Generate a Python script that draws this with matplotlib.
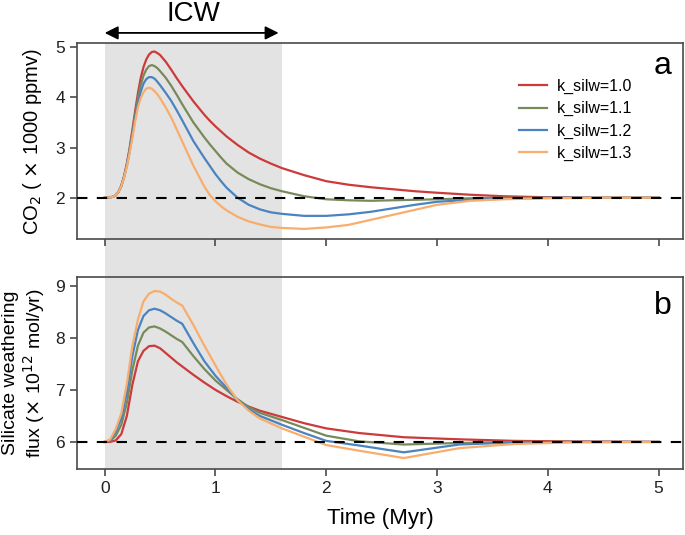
import matplotlib
matplotlib.use("Agg")
import matplotlib.pyplot as plt
import matplotlib.transforms as mtransforms
from matplotlib.patches import Rectangle

plt.rcParams['font.family'] = ['Liberation Sans', 'DejaVu Sans']

# time axis (Myr) for the CO2 panel
time_co2 = [0, 0.05, 0.075, 0.1, 0.125, 0.15, 0.175, 0.2, 0.225, 0.25, 0.275, 0.3, 0.325,
            0.35, 0.375, 0.4, 0.425, 0.45, 0.475, 0.5, 0.55, 0.6, 0.65, 0.7, 0.8, 0.9,
            0.95, 1.0, 1.05, 1.1, 1.2, 1.3, 1.4, 1.5, 1.6, 1.8, 2.0, 2.2, 2.4, 2.6, 2.8,
            3.0, 3.3, 3.6, 4.0, 4.5, 5.0]

co2_k10 = [2.0, 2.01, 2.02, 2.05, 2.12, 2.24, 2.43, 2.68, 2.99, 3.35, 3.73, 4.08, 4.38,
           4.6, 4.75, 4.85, 4.9, 4.91, 4.88, 4.84, 4.71, 4.55, 4.38, 4.22, 3.92, 3.65,
           3.53, 3.42, 3.32, 3.22, 3.05, 2.9, 2.78, 2.68, 2.59, 2.45, 2.33, 2.26, 2.21,
           2.17, 2.13, 2.1, 2.06, 2.03, 2.01, 2.0, 2.0]
co2_k11 = [2.0, 2.01, 2.02, 2.05, 2.12, 2.24, 2.42, 2.66, 2.95, 3.3, 3.66, 3.98, 4.24,
           4.43, 4.55, 4.62, 4.64, 4.62, 4.58, 4.52, 4.39, 4.23, 4.05, 3.86, 3.5, 3.2,
           3.06, 2.93, 2.8, 2.68, 2.5, 2.37, 2.27, 2.19, 2.13, 2.03, 1.97, 1.95, 1.94,
           1.95, 1.96, 1.97, 1.99, 2.0, 2.0, 2.0, 2.0]
co2_k12 = [2.0, 2.01, 2.02, 2.05, 2.12, 2.23, 2.41, 2.64, 2.92, 3.25, 3.58, 3.88, 4.11,
           4.27, 4.36, 4.4, 4.4, 4.37, 4.31, 4.24, 4.09, 3.93, 3.74, 3.54, 3.13, 2.79,
           2.63, 2.47, 2.33, 2.2, 2.0, 1.86, 1.77, 1.71, 1.68, 1.64, 1.64, 1.67, 1.72,
           1.79, 1.86, 1.92, 1.96, 1.98, 2.0, 2.0, 2.0]
co2_k13 = [2.0, 2.01, 2.02, 2.05, 2.12, 2.23, 2.4, 2.62, 2.89, 3.19, 3.52, 3.8, 3.98,
           4.1, 4.17, 4.19, 4.17, 4.12, 4.06, 3.98, 3.8, 3.6, 3.36, 3.12, 2.64, 2.22,
           2.05, 1.93, 1.83, 1.75, 1.62, 1.53, 1.47, 1.42, 1.4, 1.38, 1.41, 1.46, 1.56,
           1.66, 1.76, 1.86, 1.94, 1.97, 1.99, 2.0, 2.0]

# time axis (Myr) for the silicate weathering panel
time_flux = [0, 0.05, 0.1, 0.15, 0.2, 0.25, 0.3, 0.35, 0.4, 0.45, 0.5, 0.55, 0.6, 0.65,
             0.7, 0.8, 0.9, 1.0, 1.1, 1.2, 1.3, 1.4, 1.6, 1.8, 2.0, 2.3, 2.7, 3.2, 3.7,
             4.2, 5.0]

flux_k10 = [6.0, 6.0, 6.03, 6.15, 6.5, 7.1, 7.55, 7.75, 7.84, 7.85, 7.8, 7.71, 7.62, 7.53,
            7.45, 7.29, 7.14, 7.0, 6.88, 6.77, 6.68, 6.6, 6.48, 6.36, 6.26, 6.17, 6.09,
            6.05, 6.02, 6.01, 6.0]
flux_k11 = [6.0, 6.02, 6.12, 6.33, 6.75, 7.38, 7.85, 8.1, 8.2, 8.22, 8.18, 8.12, 8.05,
            7.98, 7.92, 7.65, 7.4, 7.18, 7.0, 6.82, 6.67, 6.56, 6.42, 6.27, 6.12, 6.01,
            5.95, 5.98, 6.0, 6.0, 6.0]
flux_k12 = [6.0, 6.03, 6.2, 6.45, 6.95, 7.65, 8.15, 8.42, 8.53, 8.56, 8.53, 8.47, 8.4,
            8.33, 8.27, 7.9, 7.55, 7.27, 7.04, 6.8, 6.63, 6.5, 6.33, 6.17, 6.02, 5.93,
            5.8, 5.95, 5.99, 6.0, 6.0]
flux_k13 = [6.0, 6.05, 6.25, 6.55, 7.12, 7.85, 8.35, 8.7, 8.85, 8.9, 8.89, 8.83, 8.75,
            8.68, 8.62, 8.25, 7.85, 7.47, 7.1, 6.8, 6.6, 6.45, 6.26, 6.1, 5.94, 5.83,
            5.69, 5.88, 5.96, 5.99, 6.0]

labels = ['k_silw=1.0', 'k_silw=1.1', 'k_silw=1.2', 'k_silw=1.3']
colors = ['#cc3a3a', '#798a5a', '#4a84c0', '#f9ad6c']

icw_start, icw_end = 0.0, 1.6

fig = plt.figure(figsize=(6.85, 5.35), dpi=100)
ax1 = fig.add_axes([0.1124, 0.5533, 0.8847, 0.3664])
ax2 = fig.add_axes([0.1124, 0.1234, 0.8847, 0.3589])

co2_series = [co2_k10, co2_k11, co2_k12, co2_k13]
flux_series = [flux_k10, flux_k11, flux_k12, flux_k13]

for ax in (ax1, ax2):
    ax.set_facecolor('none')
    ax.set_xlim(-0.25, 5.22)
    ax.set_xticks([0, 1, 2, 3, 4, 5])
    for s in ax.spines.values():
        s.set_color('#4a4a4a')
        s.set_linewidth(1.2)
    ax.tick_params(direction='out', length=5, width=1.2, color='#4a4a4a',
                   labelsize=12.5, labelcolor='#222222')

for vals, c, lab in zip(co2_series, colors, labels):
    ax1.plot(time_co2, vals, color=c, lw=1.6, label=lab)
ax1.axhline(2.0, color='black', lw=1.5, ls=(0, (5, 4.5)), zorder=5)
ax1.set_ylim(1.18, 5.08)
ax1.set_yticks([2, 3, 4, 5])
ax1.tick_params(labelbottom=False)
ax1.set_ylabel(r'CO$_2$ ( $\times$ 1000 ppmv)', fontsize=14.5, labelpad=8)
ax1.text(5.12, 4.62, 'a', fontsize=23, ha='right', va='center')
ax1.legend(loc='upper right', bbox_to_anchor=(0.94, 0.89), frameon=False,
           fontsize=11.5, handlelength=1.8, labelspacing=0.45, handletextpad=0.6)

for vals, c in zip(flux_series, colors):
    ax2.plot(time_flux, vals, color=c, lw=1.6)
ax2.axhline(6.0, color='black', lw=1.5, ls=(0, (5, 4.5)), zorder=5)
ax2.set_ylim(5.48, 9.17)
ax2.set_yticks([6, 7, 8, 9])
ax2.set_ylabel('Silicate weathering\n' + r'flux ($\times$ 10$^{12}$ mol/yr)', fontsize=14,
               labelpad=6, linespacing=1.1)
ax2.text(5.12, 8.62, 'b', fontsize=23, ha='right', va='center')
ax2.set_xlabel('Time (Myr)', fontsize=16, labelpad=9)

# grey ICW band spanning both panels and the gap between them
trans = mtransforms.blended_transform_factory(ax1.transData, fig.transFigure)
band = Rectangle((icw_start, 0.1234), icw_end - icw_start, 0.9196 - 0.1234,
                 transform=trans, facecolor='#e3e3e3', edgecolor='none', zorder=-1)
fig.add_artist(band)

ax1.annotate('', xy=(icw_start, 5.28), xytext=(icw_end - 0.03, 5.28),
             arrowprops=dict(arrowstyle='<|-|>', color='black', lw=1.3,
                             mutation_scale=20, shrinkA=0, shrinkB=0),
             annotation_clip=False)
ax1.text((icw_start + icw_end) / 2, 5.66, 'ICW', fontsize=20, ha='center', va='center',
         clip_on=False)

fig.savefig('out.png', dpi=100)
